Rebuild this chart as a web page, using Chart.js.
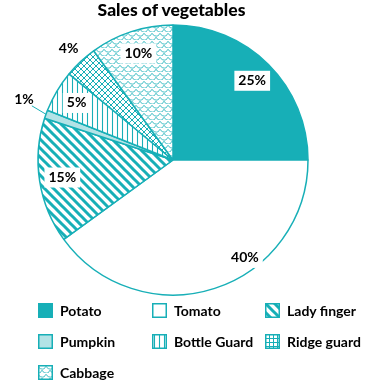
<!DOCTYPE html>
<html>
<head>
<meta charset="utf-8">
<script src="https://cdn.jsdelivr.net/npm/chart.js@4"></script>
<style>
  html, body { margin: 0; padding: 0; background: #fff; }
  #wrap { position: relative; width: 367px; height: 383px; overflow: hidden; font-family: Lato, "Open Sans", sans-serif; }
  #title { position: absolute; left: 0; width: 343px; top: -1px; text-align: center; font-weight: 900; font-size: 17.5px; color: #000; }
  #chart { position: absolute; left: 0; top: 0; }
  .lg { position: absolute; font-weight: bold; font-size: 14px; color: #000; display: flex; align-items: center; white-space: nowrap; }
  .lg canvas { margin-right: 7px; }
</style>
</head>
<body>
<div id="wrap">
  <canvas id="chart" width="367" height="383"></canvas>
  <div id="title">Sales of vegetables</div>
</div>
<script>
/// Category names and their share of sales (percent)
const categories = ["Potato", "Tomato", "Lady finger", "Pumpkin", "Bottle Guard", "Ridge guard", "Cabbage"];
const sales = [25, 40, 15, 1, 5, 4, 10];
const valueLabels = ["25%", "40%", "15%", "1%", "5%", "4%", "10%"];

const TEAL = "#17AFB7";
const LIGHT = "#B3E3E6";

// ── Pattern helpers ─────────────────────────────────────────────────

/// Build a repeating canvas pattern from a small tile drawing.
function makePattern(w, h, draw) {
  const c = document.createElement("canvas");
  c.width = w; c.height = h;
  const g = c.getContext("2d");
  g.fillStyle = "#fff";
  g.fillRect(0, 0, w, h);
  g.strokeStyle = TEAL;
  draw(g);
  return document.createElement("canvas").getContext("2d").createPattern(c, "repeat");
}

const stripes = makePattern(9, 9, g => {
  g.lineWidth = 3;
  g.beginPath();
  g.moveTo(-2, -2); g.lineTo(11, 11);
  g.moveTo(-2, 7); g.lineTo(2, 11);
  g.moveTo(7, -2); g.lineTo(11, 2);
  g.stroke();
});

const vertical = makePattern(5, 5, g => {
  g.lineWidth = 1.1;
  g.beginPath(); g.moveTo(2.5, 0); g.lineTo(2.5, 5); g.stroke();
});

const crosshatch = makePattern(6, 6, g => {
  g.lineWidth = 1;
  g.beginPath();
  g.moveTo(0, 0); g.lineTo(6, 6);
  g.moveTo(6, 0); g.lineTo(0, 6);
  g.stroke();
});

const grid = makePattern(4, 4, g => {
  g.lineWidth = 1;
  g.beginPath();
  g.moveTo(0, 0.5); g.lineTo(4, 0.5);
  g.moveTo(0.5, 0); g.lineTo(0.5, 4);
  g.stroke();
});

const scales = makePattern(8, 8, g => {
  g.lineWidth = 0.8;
  const arc = (cx, cy) => {
    g.beginPath();
    g.arc(cx, cy, 4, 0.1 * Math.PI, 0.9 * Math.PI);
    g.stroke();
  };
  arc(4, 0); arc(0, 4); arc(8, 4); arc(4, 8);
});

const fills = [TEAL, "#fff", stripes, LIGHT, vertical, crosshatch, scales];
const legendFills = [TEAL, "#fff", stripes, LIGHT, vertical, grid, scales];

// ── Value labels ────────────────────────────────────────────────────

/// Per-slice label placement (angle in degrees from top, radius factor).
const labelPlacement = [
  null, { angle: 143.7, r: 0.9 }, null,
  { angle: 292, r: 1.19, leader: true }, null,
  { r: 1.13 }, null
];

const valueLabelPlugin = {
  id: "valueLabels",
  afterDatasetsDraw(chart) {
    const ctx = chart.ctx;
    const arcs = chart.getDatasetMeta(0).data;
    ctx.save();
    ctx.font = "bold 14px Lato, 'Open Sans', sans-serif";
    ctx.textAlign = "center";
    ctx.textBaseline = "middle";
    arcs.forEach((arc, i) => {
      const p = labelPlacement[i] || {};
      const mid = p.angle !== undefined
        ? p.angle * Math.PI / 180 - Math.PI / 2
        : (arc.startAngle + arc.endAngle) / 2;
      const rf = p.r || 0.83;
      const x = arc.x + Math.cos(mid) * arc.outerRadius * rf;
      const y = arc.y + Math.sin(mid) * arc.outerRadius * rf;
      const txt = valueLabels[i];
      const w = ctx.measureText(txt).width;
      if (rf < 1) {
        ctx.fillStyle = "#fff";
        ctx.fillRect(x - w / 2 - 4, y - 10, w + 8, 20);
      }
      if (p.leader) {
        const a = (arc.startAngle + arc.endAngle) / 2;
        ctx.strokeStyle = TEAL;
        ctx.lineWidth = 1;
        ctx.beginPath();
        ctx.moveTo(x + w / 2 - 2, y + 6);
        ctx.lineTo(arc.x + Math.cos(a) * arc.outerRadius, arc.y + Math.sin(a) * arc.outerRadius);
        ctx.stroke();
      }
      ctx.fillStyle = "#000";
      ctx.fillText(txt, x, y);
    });
    ctx.restore();
  }
};

// ── Chart ───────────────────────────────────────────────────────────

new Chart(document.getElementById("chart"), {
  type: "pie",
  data: {
    labels: categories,
    datasets: [{
      data: sales,
      backgroundColor: fills,
      borderColor: TEAL,
      borderWidth: 1.5
    }]
  },
  options: {
    responsive: false,
    animation: false,
    radius: 135,
    layout: { padding: { left: 38, right: 59, top: 25, bottom: 88 } },
    events: [],
    plugins: {
      legend: { display: false },
      tooltip: { enabled: false },
      title: { display: false }
    }
  },
  plugins: [valueLabelPlugin]
});

// ── HTML legend ─────────────────────────────────────────────────────

const legendCols = [38, 152, 265];
const legendRows = [310, 341, 372];
const wrapEl = document.getElementById("wrap");
categories.forEach((name, i) => {
  const item = document.createElement("div");
  item.className = "lg";
  item.style.left = legendCols[i % 3] + "px";
  item.style.top = (legendRows[Math.floor(i / 3)] - 9) + "px";
  item.style.height = "18px";
  const box = document.createElement("canvas");
  box.width = 15; box.height = 15;
  const g = box.getContext("2d");
  g.fillStyle = legendFills[i];
  g.fillRect(0, 0, 15, 15);
  g.strokeStyle = TEAL;
  g.lineWidth = 1.5;
  g.strokeRect(0.75, 0.75, 13.5, 13.5);
  item.appendChild(box);
  item.appendChild(document.createTextNode(name));
  wrapEl.appendChild(item);
});
</script>
</body>
</html>
